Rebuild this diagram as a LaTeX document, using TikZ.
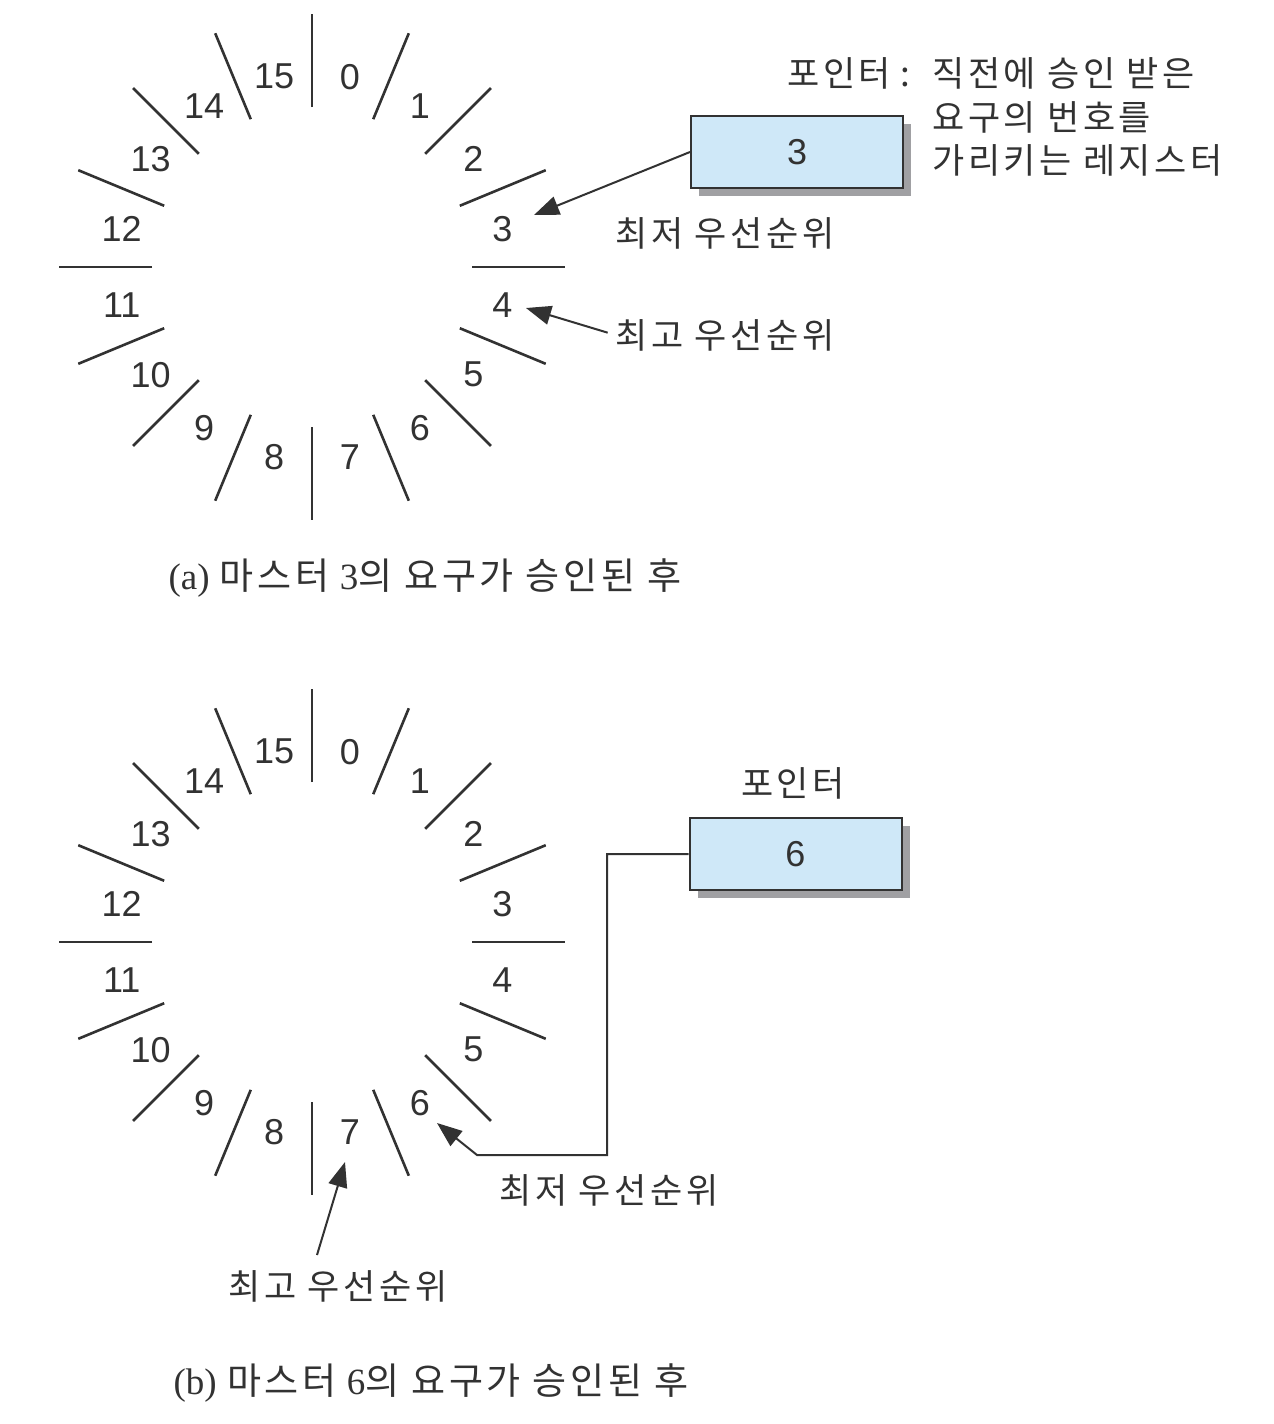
\documentclass[tikz,border=0pt]{standalone}
\usepackage{fontspec}
\setmainfont{Liberation Sans}
\newfontfamily\krfont[LetterSpace=10]{Noto Sans CJK KR}
\newfontfamily\capfont{Liberation Serif}
\usepackage{tikz}
\usetikzlibrary{arrows.meta,shadows,calc}
\definecolor{ink}{RGB}{50,50,50}
\definecolor{regblue}{RGB}{207,232,248}
\definecolor{regshadow}{RGB}{160,160,163}
\tikzset{
tick/.style={
draw=ink,
line width=1.3pt
},
num/.style={
text=ink,
inner sep=0pt,
font=\fontsize{18}{20}\selectfont
},
register/.style={
draw=ink,
line width=1pt,
fill=regblue,
minimum width=106pt,
minimum height=36pt,
text=ink,
font=\fontsize{18}{20}\selectfont,
general shadow={fill=regshadow,draw=none,shadow xshift=4pt,shadow yshift=-4pt}
},
note/.style={
text=ink,
inner sep=0pt,
align=left,
font=\krfont\fontsize{17.5}{21.75}\selectfont
},
caption/.style={
text=ink,
inner sep=0pt,
font=\fontsize{18.5}{22}\selectfont
},
arrow/.style={
-{Triangle[length=12.5pt,width=9.5pt]},
draw=ink,
line width=1pt
}
}
\newcommand{\drawdial}[2]{%
\begin{scope}[shift={#2}]
\foreach \k in {0,...,15}{
\draw[tick] ({90-22.5*\k}:80pt) -- ({90-22.5*\k}:126.5pt);
\node[num] (#1\k) at ({78.75-22.5*\k}:97pt) {\k};
}
\end{scope}}

\begin{document}
\begin{tikzpicture}[x=0.5pt,y=-0.5pt]
\useasboundingbox[fill=white] (0,0) rectangle (1274,1424);
% (a)
\drawdial{a}{(312,267)}
\node[register](ptrA) at (797,152){3};
\node[note,anchor=west](ptrnoteA) at (932,117){\llap{\makebox[72.5pt][l]{포인터\hfill:\hspace{11pt}}}직전에 승인 받은\\요구의 번호를\\가리키는 레지스터};
\node[note](loA) at (725,233){최저 우선순위};
\node[note](hiA) at (725,335){최고 우선순위};
\coordinate (tipA3) at (534,215);
\coordinate (tipA4) at (526,308);
\draw[arrow](ptrA.west)--(tipA3);
\draw[arrow,shorten <=4pt](hiA.west)--(tipA4);
\node[caption](capA) at (425,578){{\capfont (a)} {\krfont 마스터} {\capfont 3}{\krfont 의 요구가 승인된 후}};
% (b)
\drawdial{b}{(312,942)}
\node[register](ptrB) at (795.5,854){6};
\node[note](ptrnoteB) at (793,783){포인터};
\node[note](loB) at (609,1190){최저 우선순위};
\node[note](hiB) at (338,1286){최고 우선순위};
\coordinate (bendB) at (607,1155);
\coordinate (kneeB) at (477,1155);
\coordinate (tipB6) at (437,1123);
\coordinate (tailB7) at (317,1255);
\coordinate (tipB7) at (345,1162);
\draw[arrow](ptrB.west)-|(bendB)--(kneeB)--(tipB6);
\draw[arrow](tailB7)--(tipB7);
\node[caption](capB) at (431,1383){{\capfont (b)} {\krfont 마스터} {\capfont 6}{\krfont 의 요구가 승인된 후}};
\end{tikzpicture}
\end{document}
